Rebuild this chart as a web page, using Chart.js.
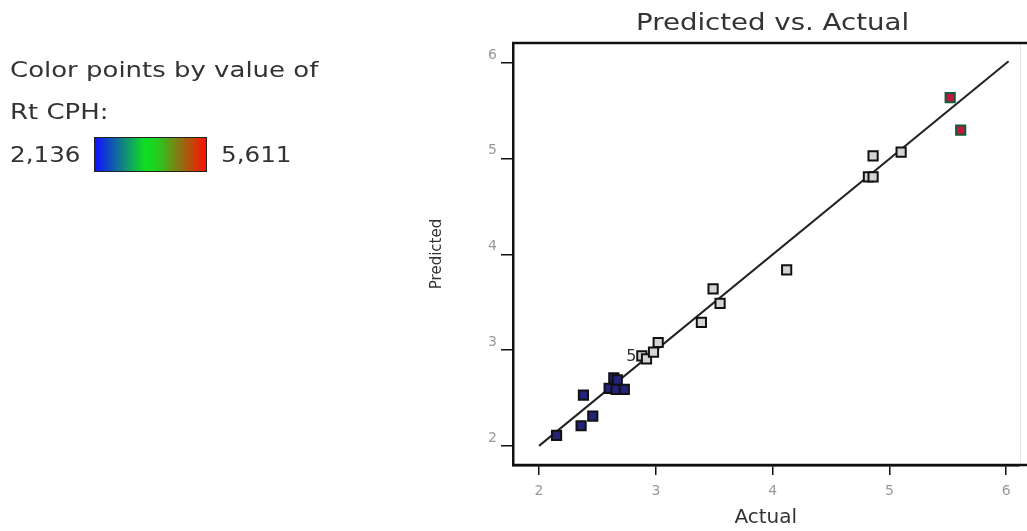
<!DOCTYPE html>
<html>
<head>
<meta charset="utf-8">
<script src="https://cdn.jsdelivr.net/npm/chart.js@4"></script>
<style>
  html, body { margin: 0; padding: 0; background: #fff; }
  #wrap { position: relative; width: 1027px; height: 531px; overflow: hidden; }
  canvas { position: absolute; left: 0; top: 0; }
  .txt { position: absolute; font-family: "DejaVu Sans", sans-serif; color: #333; white-space: nowrap; line-height: 1; transform-origin: 0 0; }
  #title { left: 636px; top: 11px; font-size: 23px; transform: scaleX(1.2); }
  #l1 { left: 10px; top: 59px; font-size: 22px; transform: scaleX(1.18); }
  #l2 { left: 10px; top: 101px; font-size: 22px; transform: scaleX(1.18); }
  #lmin { left: 10px; top: 144px; font-size: 22px; transform: scaleX(1.12); }
  #lmax { left: 221px; top: 144px; font-size: 22px; transform: scaleX(1.12); }
  #bar { position: absolute; left: 94px; top: 137px; width: 113px; height: 35px; border: 1px solid #222; box-sizing: border-box;
         background: linear-gradient(to right, #1010ff 0%, #10e020 45%, #20d020 55%, #ff1000 100%); }
</style>
</head>
<body>
<div id="wrap">
  <canvas id="c" width="1027" height="531"></canvas>
  <div class="txt" id="title">Predicted vs. Actual</div>
  <div class="txt" id="l1">Color points by value of</div>
  <div class="txt" id="l2">Rt CPH:</div>
  <div class="txt" id="lmin">2,136</div>
  <div id="bar"></div>
  <div class="txt" id="lmax">5,611</div>
</div>
<script>
const actual    = [2.15, 2.36, 2.46, 2.38, 2.60, 2.66, 2.73, 2.64, 2.67, 2.88, 2.92, 2.98, 3.02, 3.39, 3.49, 3.55, 4.12, 4.82, 4.86, 4.86, 5.10, 5.52, 5.61];
const predicted = [2.11, 2.21, 2.31, 2.53, 2.60, 2.59, 2.59, 2.71, 2.69, 2.94, 2.91, 2.98, 3.08, 3.29, 3.64, 3.49, 3.84, 4.81, 4.81, 5.03, 5.07, 5.64, 5.30];
const fitLine   = [2, 6.02];
const xTicks = [2, 3, 4, 5, 6];
const yTicks = [2, 3, 4, 5, 6];
const colorMin = 2.136, colorMax = 5.611;
const overlapLabel = { text: "5", x: 2.79, y: 2.93 };

function fillFor(v) {
  const t = (v - colorMin) / (colorMax - colorMin);
  if (t < 0.2) return '#23237a';
  if (t > 0.9) return '#c4163c';
  return '#d4d4d4';
}
function borderFor(v) {
  const t = (v - colorMin) / (colorMax - colorMin);
  if (t > 0.9) return '#155a3c';
  return '#111';
}

const pts = actual.map((a, i) => ({ x: a, y: predicted[i] }));

const framePlugin = {
  id: 'frame',
  afterDraw(chart) {
    const { ctx, chartArea: a, scales } = chart;
    ctx.save();
    ctx.strokeStyle = '#111';
    ctx.lineWidth = 2.5;
    ctx.beginPath();
    ctx.moveTo(a.left - 1, a.top);
    ctx.lineTo(1027, a.top);
    ctx.moveTo(a.left - 1, a.bottom);
    ctx.lineTo(1027, a.bottom);
    ctx.stroke();
    ctx.strokeStyle = '#e4e4e4';
    ctx.lineWidth = 1;
    ctx.beginPath();
    ctx.moveTo(1020.5, a.top + 2);
    ctx.lineTo(1020.5, a.bottom - 2);
    ctx.stroke();
    ctx.fillStyle = '#333';
    ctx.font = '16px "DejaVu Sans", sans-serif';
    ctx.textAlign = 'center';
    ctx.textBaseline = 'middle';
    ctx.fillText(overlapLabel.text, scales.x.getPixelForValue(overlapLabel.x), scales.y.getPixelForValue(overlapLabel.y));
    ctx.restore();
  }
};

new Chart(document.getElementById('c'), {
  type: 'scatter',
  data: {
    datasets: [
      {
        type: 'line',
        data: fitLine.map(v => ({ x: v, y: v })),
        borderColor: '#222',
        borderWidth: 2,
        pointRadius: 0,
        fill: false,
        order: 2
      },
      {
        data: pts,
        pointStyle: 'rect',
        pointRadius: 6.5,
        pointHoverRadius: 6.5,
        backgroundColor: actual.map(fillFor),
        borderColor: actual.map(borderFor),
        borderWidth: 2,
        order: 1
      }
    ]
  },
  options: {
    responsive: false,
    animation: false,
    events: [],
    layout: { padding: { left: 426, top: 43, right: 0, bottom: 1 } },
    plugins: { legend: { display: false }, tooltip: { enabled: false }, title: { display: false } },
    scales: {
      x: {
        type: 'linear',
        min: 1.777, max: 6.105,
        afterBuildTicks: s => { s.ticks = xTicks.map(v => ({ value: v })); },
        afterFit: s => { s.height = 65; s.paddingLeft = 0; s.paddingRight = 0; },
        grid: { display: true, drawOnChartArea: false, drawTicks: true, tickLength: 10, color: '#111', lineWidth: 1.5 },
        border: { display: true, color: '#111', width: 2.5 },
        ticks: { color: '#999', font: { size: 14, family: 'DejaVu Sans' }, padding: 8, maxRotation: 0,
                 callback: v => (xTicks.includes(v) ? String(v) : '') },
        title: { display: true, text: 'Actual', color: '#333', font: { size: 20, family: 'DejaVu Sans' }, padding: { top: 0, bottom: 0 } }
      },
      y: {
        type: 'linear',
        min: 1.80, max: 6.21,
        afterBuildTicks: s => { s.ticks = yTicks.map(v => ({ value: v })); },
        afterFit: s => { s.width = 87; s.paddingTop = 0; s.paddingBottom = 0; },
        grid: { display: true, drawOnChartArea: false, drawTicks: true, tickLength: 12, color: '#111', lineWidth: 1.5 },
        border: { display: true, color: '#111', width: 2.5 },
        ticks: { color: '#999', font: { size: 14, family: 'DejaVu Sans' }, padding: 4, labelOffset: -8,
                 callback: v => (yTicks.includes(v) ? String(v) : '') },
        title: { display: true, text: 'Predicted', color: '#333', font: { size: 15, family: 'DejaVu Sans' }, padding: { top: 2, bottom: 0 } }
      }
    }
  },
  plugins: [framePlugin]
});
</script>
</body>
</html>
